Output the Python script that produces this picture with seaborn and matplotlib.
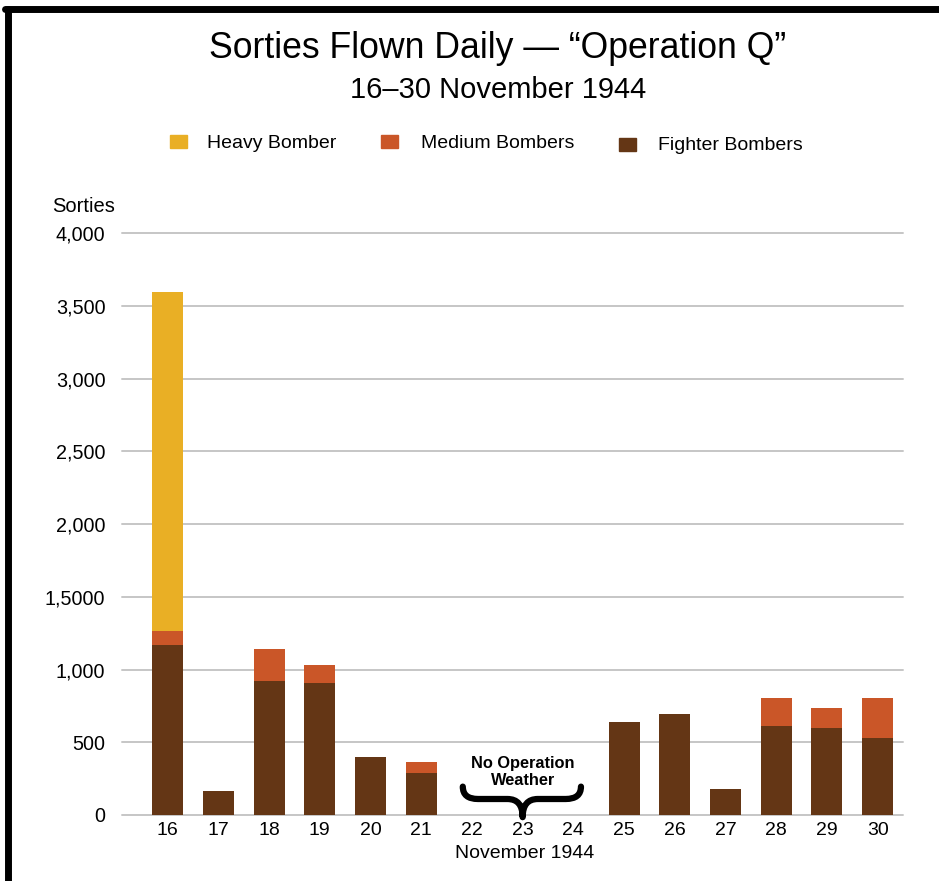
import matplotlib
matplotlib.use("Agg")
import matplotlib.pyplot as plt
from matplotlib.path import Path
from matplotlib.patches import PathPatch, Rectangle
from matplotlib.lines import Line2D
import seaborn as sns
import pandas as pd

# data
days = ["16", "17", "18", "19", "20", "21", "22", "23", "24", "25", "26", "27", "28", "29", "30"]
fighter = [1170, 165, 920, 905, 400, 290, 0, 0, 0, 640, 695, 180, 610, 600, 530]
medium = [95, 0, 220, 125, 0, 75, 0, 0, 0, 0, 0, 0, 195, 135, 275]
heavy = [2330, 0, 0, 0, 0, 0, 0, 0, 0, 0, 0, 0, 0, 0, 0]
ytick_vals = [0, 500, 1000, 1500, 2000, 2500, 3000, 3500, 4000]
ytick_labels = ["0", "500", "1,000", "1,5000", "2,000", "2,500", "3,000", "3,500", "4,000"]

c_heavy = "#E9AF25"
c_medium = "#CA5628"
c_fighter = "#643615"

df = pd.DataFrame({"day": days, "fighter": fighter, "medium": medium, "heavy": heavy})
df["fm"] = df["fighter"] + df["medium"]
df["total"] = df["fm"] + df["heavy"]

sns.set_style("white")
plt.rcParams["font.family"] = ["Liberation Sans", "DejaVu Sans"]
plt.rcParams["text.color"] = "black"
plt.rcParams["xtick.color"] = "black"
plt.rcParams["ytick.color"] = "black"

fig = plt.figure(figsize=(9.39, 8.81), dpi=100)
ax = fig.add_axes([122 / 939, 66 / 881, 781 / 939, 582 / 881])

# stacked bars: draw cumulative totals back to front
for col, c, z in [("total", c_heavy, 2), ("fm", c_medium, 3), ("fighter", c_fighter, 4)]:
    sns.barplot(data=df, x="day", y=col, color=c, width=0.61, saturation=1,
                linewidth=0, ax=ax, zorder=z)

ax.set_xlim(-0.9, 14.5)
ax.set_ylim(0, 4000)
for v in ytick_vals:
    ax.axhline(v, color="#C6C6C6", lw=1.4, zorder=1, clip_on=False)
ax.set_yticks(ytick_vals)
ax.set_yticklabels(ytick_labels)
ax.tick_params(axis="y", length=0, pad=12, labelsize=14.2)
ax.tick_params(axis="x", length=0, pad=5, labelsize=14)
ax.set_xlabel("")
ax.set_ylabel("")
sns.despine(ax=ax, left=True, bottom=True)

fig.text(498 / 939, 1 - 48 / 881, "Sorties Flown Daily \u2014 \u201cOperation Q\u201d",
         ha="center", va="center", fontsize=25.7)
fig.text(498 / 939, 1 - 90 / 881, "16\u201330 November 1944", ha="center", va="center", fontsize=21)
fig.text(52 / 939, 1 - 207 / 881, "Sorties", ha="left", va="center", fontsize=14.5)
fig.text(525 / 939, 1 - 853 / 881, "November 1944", ha="center", va="center", fontsize=14)

# legend
leg = [("Heavy Bomber", c_heavy, 170, 141, 207), ("Medium Bombers", c_medium, 381, 141, 421),
       ("Fighter Bombers", c_fighter, 619, 144, 658)]
for label, col, x0, yc, xt in leg:
    fig.add_artist(Rectangle((x0 / 939, 1 - (yc + 7) / 881), 17 / 939, 13 / 881,
                             transform=fig.transFigure, color=col))
    fig.text(xt / 939, 1 - (yc + 2) / 881, label, ha="left", va="center", fontsize=14)

# no-operation note with brace
ax.text(7, 295, "No Operation\nWeather", ha="center", va="center", fontsize=11.8,
        fontweight="bold", linespacing=1.1)
xl, xr, xc = 5.82, 8.15, 7.0
ytop, ymid, ybot = 195, 110, -15
verts = [(xl, ytop), (xl, ymid), (xl + 0.3, ymid),
         (xc - 0.3, ymid), (xc, ymid), (xc, ybot),
         (xc, ymid), (xc + 0.3, ymid),
         (xr - 0.3, ymid), (xr, ymid), (xr, ytop)]
codes = [Path.MOVETO, Path.CURVE3, Path.CURVE3,
         Path.LINETO, Path.CURVE3, Path.CURVE3,
         Path.CURVE3, Path.CURVE3,
         Path.LINETO, Path.CURVE3, Path.CURVE3]
ax.add_patch(PathPatch(Path(verts, codes), fill=False, lw=4.5, color="black",
                       capstyle="round", joinstyle="round", clip_on=False, zorder=5))

# black frame (cut at right and bottom)
fig.add_artist(Line2D([7.5 / 939, 7.5 / 939], [0, 1 - 9 / 881], transform=fig.transFigure,
                      color="black", lw=5))
fig.add_artist(Line2D([4.5 / 939, 1], [1 - 9 / 881, 1 - 9 / 881], transform=fig.transFigure,
                      color="black", lw=5))

fig.savefig("out.png", dpi=100)
